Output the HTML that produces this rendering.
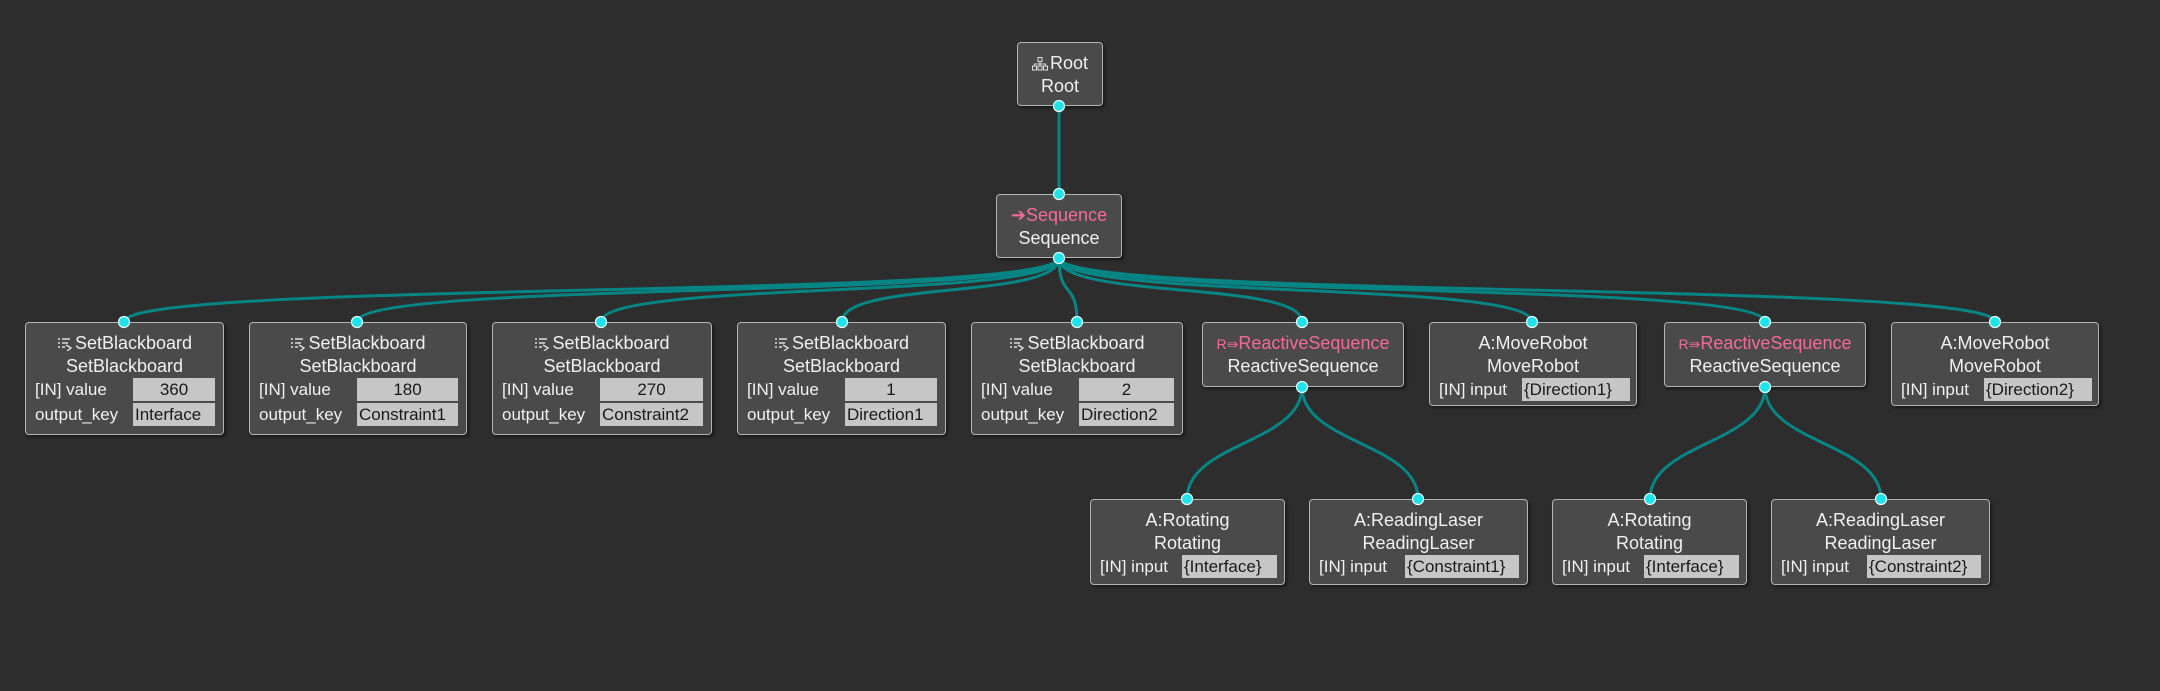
<!DOCTYPE html>
<html><head><meta charset="utf-8">
<style>
html,body{margin:0;padding:0;width:2160px;height:691px;background:#2d2d2d;overflow:hidden;font-family:"Liberation Sans",sans-serif;}
svg.edges{position:absolute;left:0;top:0;}
.n{position:absolute;box-sizing:border-box;background:#4a4a4a;border:1.5px solid #b4b4b4;border-radius:4px;box-shadow:2px 2px 3px rgba(0,0,0,.45);color:#f0f0f0;}
.t{position:absolute;left:0;right:0;top:8px;height:24px;line-height:24px;text-align:center;font-size:18px;white-space:nowrap;}
.s{position:absolute;left:0;right:0;top:31px;height:24px;line-height:24px;text-align:center;font-size:18px;white-space:nowrap;}
.pink{color:#f36b9a;}
.r{position:absolute;height:23px;line-height:23px;font-size:17px;white-space:nowrap;}
.f{position:absolute;height:23px;line-height:23px;font-size:17px;background:#c6c6c6;color:#1a1a1a;white-space:nowrap;overflow:hidden;padding-left:2px;box-sizing:border-box;}
.c{text-align:center;padding-left:0;}
.ic{display:inline-block;vertical-align:middle;margin-right:2px;}
</style></head><body>
<svg class="edges" width="2160" height="691">
<g fill="none" stroke="#078585" stroke-width="3">
<path d="M1059 106 L1059 194"/>
<path d="M1059 258 C1059 300 124 280 124 322"/>
<path d="M1059 258 C1059 300 357 280 357 322"/>
<path d="M1059 258 C1059 300 601 280 601 322"/>
<path d="M1059 258 C1059 300 842 280 842 322"/>
<path d="M1059 258 C1059 300 1077 280 1077 322"/>
<path d="M1059 258 C1059 300 1302 280 1302 322"/>
<path d="M1059 258 C1059 300 1532 280 1532 322"/>
<path d="M1059 258 C1059 300 1765 280 1765 322"/>
<path d="M1059 258 C1059 300 1995 280 1995 322"/>
<path d="M1302 387 C1302 443 1187 443 1187 499"/>
<path d="M1302 387 C1302 443 1418 443 1418 499"/>
<path d="M1765 387 C1765 443 1650 443 1650 499"/>
<path d="M1765 387 C1765 443 1881 443 1881 499"/>
</g>
</svg>

<div class="n" style="left:1017px;top:42px;width:86px;height:64px;">
<div class="t"><svg class="ic" width="16" height="14" viewBox="0 0 16 14"><g fill="none" stroke="#ddd" stroke-width="1"><rect x="6" y="0.5" width="4" height="4"/><rect x="0.5" y="9" width="4" height="4"/><rect x="6" y="9" width="4" height="4"/><rect x="11.5" y="9" width="4" height="4"/><path d="M8 4.5V7M2.5 9V7H13.5V9M8 7V9"/></g></svg>Root</div>
<div class="s">Root</div>
</div>

<div class="n" style="left:996px;top:194px;width:126px;height:64px;">
<div class="t pink">➔Sequence</div>
<div class="s">Sequence</div>
</div>

<div class="n" style="left:25px;top:322px;width:199px;height:113px;">
<div class="t"><svg class="ic" width="16" height="14" viewBox="0 0 16 14"><g stroke="#ddd" stroke-width="1.4" fill="none"><path d="M1 2H3M5 2H13M1 6H3M5 6H11M1 10H3M5 10H8M9 8L14 11L10 14"/></g></svg>SetBlackboard</div>
<div class="s">SetBlackboard</div>
<div class="r" style="left:9px;top:55px;">[IN] value</div><div class="f c" style="left:107px;top:55px;width:82px;">360</div>
<div class="r" style="left:9px;top:80px;">output_key</div><div class="f" style="left:107px;top:80px;width:82px;">Interface</div>
</div>
<div class="n" style="left:249px;top:322px;width:218px;height:113px;">
<div class="t"><svg class="ic" width="16" height="14" viewBox="0 0 16 14"><g stroke="#ddd" stroke-width="1.4" fill="none"><path d="M1 2H3M5 2H13M1 6H3M5 6H11M1 10H3M5 10H8M9 8L14 11L10 14"/></g></svg>SetBlackboard</div>
<div class="s">SetBlackboard</div>
<div class="r" style="left:9px;top:55px;">[IN] value</div><div class="f c" style="left:107px;top:55px;width:101px;">180</div>
<div class="r" style="left:9px;top:80px;">output_key</div><div class="f" style="left:107px;top:80px;width:101px;">Constraint1</div>
</div>
<div class="n" style="left:492px;top:322px;width:220px;height:113px;">
<div class="t"><svg class="ic" width="16" height="14" viewBox="0 0 16 14"><g stroke="#ddd" stroke-width="1.4" fill="none"><path d="M1 2H3M5 2H13M1 6H3M5 6H11M1 10H3M5 10H8M9 8L14 11L10 14"/></g></svg>SetBlackboard</div>
<div class="s">SetBlackboard</div>
<div class="r" style="left:9px;top:55px;">[IN] value</div><div class="f c" style="left:107px;top:55px;width:103px;">270</div>
<div class="r" style="left:9px;top:80px;">output_key</div><div class="f" style="left:107px;top:80px;width:103px;">Constraint2</div>
</div>
<div class="n" style="left:737px;top:322px;width:209px;height:113px;">
<div class="t"><svg class="ic" width="16" height="14" viewBox="0 0 16 14"><g stroke="#ddd" stroke-width="1.4" fill="none"><path d="M1 2H3M5 2H13M1 6H3M5 6H11M1 10H3M5 10H8M9 8L14 11L10 14"/></g></svg>SetBlackboard</div>
<div class="s">SetBlackboard</div>
<div class="r" style="left:9px;top:55px;">[IN] value</div><div class="f c" style="left:107px;top:55px;width:92px;">1</div>
<div class="r" style="left:9px;top:80px;">output_key</div><div class="f" style="left:107px;top:80px;width:92px;">Direction1</div>
</div>
<div class="n" style="left:971px;top:322px;width:212px;height:113px;">
<div class="t"><svg class="ic" width="16" height="14" viewBox="0 0 16 14"><g stroke="#ddd" stroke-width="1.4" fill="none"><path d="M1 2H3M5 2H13M1 6H3M5 6H11M1 10H3M5 10H8M9 8L14 11L10 14"/></g></svg>SetBlackboard</div>
<div class="s">SetBlackboard</div>
<div class="r" style="left:9px;top:55px;">[IN] value</div><div class="f c" style="left:107px;top:55px;width:95px;">2</div>
<div class="r" style="left:9px;top:80px;">output_key</div><div class="f" style="left:107px;top:80px;width:95px;">Direction2</div>
</div>

<div class="n" style="left:1202px;top:322px;width:202px;height:65px;">
<div class="t pink"><span style="font-size:14px;">R⇛</span>ReactiveSequence</div>
<div class="s">ReactiveSequence</div>
</div>
<div class="n" style="left:1429px;top:322px;width:208px;height:84px;">
<div class="t">A:MoveRobot</div>
<div class="s">MoveRobot</div>
<div class="r" style="left:9px;top:55px;">[IN] input</div><div class="f" style="left:92px;top:55px;width:108px;">{Direction1}</div>
</div>
<div class="n" style="left:1664px;top:322px;width:202px;height:65px;">
<div class="t pink"><span style="font-size:14px;">R⇛</span>ReactiveSequence</div>
<div class="s">ReactiveSequence</div>
</div>
<div class="n" style="left:1891px;top:322px;width:208px;height:84px;">
<div class="t">A:MoveRobot</div>
<div class="s">MoveRobot</div>
<div class="r" style="left:9px;top:55px;">[IN] input</div><div class="f" style="left:92px;top:55px;width:108px;">{Direction2}</div>
</div>

<div class="n" style="left:1090px;top:499px;width:195px;height:86px;">
<div class="t">A:Rotating</div>
<div class="s">Rotating</div>
<div class="r" style="left:9px;top:55px;">[IN] input</div><div class="f" style="left:91px;top:55px;width:95px;">{Interface}</div>
</div>
<div class="n" style="left:1309px;top:499px;width:219px;height:86px;">
<div class="t">A:ReadingLaser</div>
<div class="s">ReadingLaser</div>
<div class="r" style="left:9px;top:55px;">[IN] input</div><div class="f" style="left:95px;top:55px;width:114px;">{Constraint1}</div>
</div>
<div class="n" style="left:1552px;top:499px;width:195px;height:86px;">
<div class="t">A:Rotating</div>
<div class="s">Rotating</div>
<div class="r" style="left:9px;top:55px;">[IN] input</div><div class="f" style="left:91px;top:55px;width:95px;">{Interface}</div>
</div>
<div class="n" style="left:1771px;top:499px;width:219px;height:86px;">
<div class="t">A:ReadingLaser</div>
<div class="s">ReadingLaser</div>
<div class="r" style="left:9px;top:55px;">[IN] input</div><div class="f" style="left:95px;top:55px;width:114px;">{Constraint2}</div>
</div>

<svg class="edges" width="2160" height="691" style="pointer-events:none">
<g fill="#1ee3e8" stroke="#e8ffff" stroke-width="1.2">
<circle cx="1059" cy="106" r="5.5"/><circle cx="1059" cy="194" r="5.5"/><circle cx="1059" cy="258" r="5.5"/>
<circle cx="124" cy="322" r="5.5"/><circle cx="357" cy="322" r="5.5"/><circle cx="601" cy="322" r="5.5"/>
<circle cx="842" cy="322" r="5.5"/><circle cx="1077" cy="322" r="5.5"/><circle cx="1302" cy="322" r="5.5"/>
<circle cx="1532" cy="322" r="5.5"/><circle cx="1765" cy="322" r="5.5"/><circle cx="1995" cy="322" r="5.5"/>
<circle cx="1302" cy="387" r="5.5"/><circle cx="1765" cy="387" r="5.5"/>
<circle cx="1187" cy="499" r="5.5"/><circle cx="1418" cy="499" r="5.5"/><circle cx="1650" cy="499" r="5.5"/><circle cx="1881" cy="499" r="5.5"/>
</g>
</svg>
</body></html>
